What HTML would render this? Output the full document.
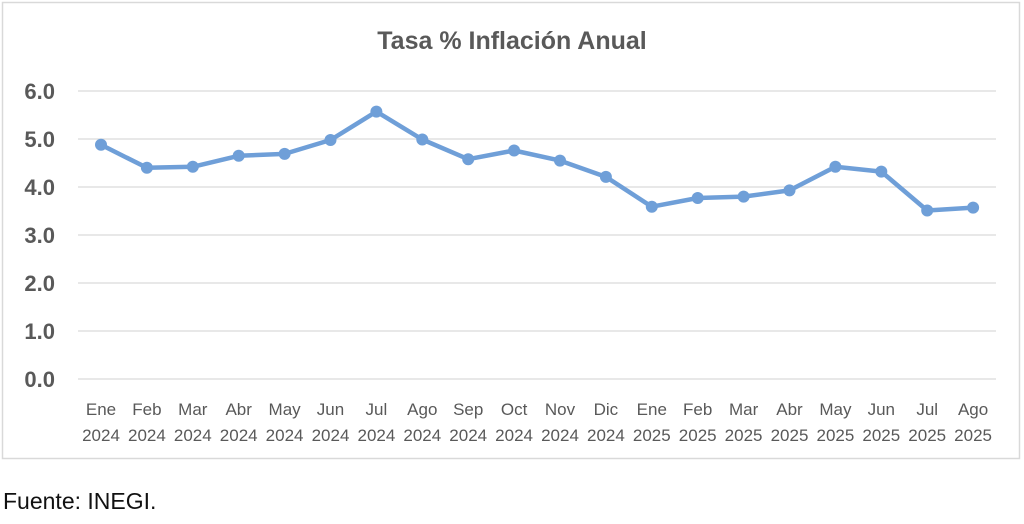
<!DOCTYPE html>
<html><head><meta charset="utf-8"><style>
body{margin:0;background:#fff;width:1024px;height:519px;overflow:hidden}
</style></head><body>
<svg width="1024" height="519" xmlns="http://www.w3.org/2000/svg" font-family="Liberation Sans, sans-serif">
<rect x="2.5" y="2.5" width="1017" height="456" fill="#fff" stroke="#d9d9d9" stroke-width="1.5"/>
<text x="512" y="49" text-anchor="middle" font-size="25" font-weight="bold" fill="#595959">Tasa % Inflación Anual</text>
<g stroke="#d9d9d9" stroke-width="1.3">
<line x1="78" x2="996" y1="91" y2="91"/><line x1="78" x2="996" y1="139" y2="139"/>
<line x1="78" x2="996" y1="187" y2="187"/><line x1="78" x2="996" y1="235" y2="235"/>
<line x1="78" x2="996" y1="283" y2="283"/><line x1="78" x2="996" y1="331" y2="331"/>
<line x1="78" x2="996" y1="379" y2="379"/>
</g>
<g font-size="22" font-weight="bold" fill="#595959" text-anchor="end">
<text x="55" y="99">6.0</text><text x="55" y="147">5.0</text><text x="55" y="195">4.0</text>
<text x="55" y="243">3.0</text><text x="55" y="291">2.0</text><text x="55" y="339">1.0</text>
<text x="55" y="387">0.0</text>
</g>
<polyline fill="none" stroke="#6f9fd8" stroke-width="4.5" stroke-linejoin="round" points="101,144.8 146.9,167.8 192.8,166.8 238.7,155.8 284.6,153.9 330.5,140 376.4,111.6 422.3,139.5 468.2,159.2 514.1,150.5 560,160.6 605.9,176.9 651.8,206.7 697.7,198 743.6,196.6 789.5,190.4 835.4,166.8 881.3,171.6 927.2,210.5 973.1,207.6"/>
<g fill="#6f9fd8">
<circle cx="101" cy="144.8" r="6"/><circle cx="146.9" cy="167.8" r="6"/><circle cx="192.8" cy="166.8" r="6"/><circle cx="238.7" cy="155.8" r="6"/><circle cx="284.6" cy="153.9" r="6"/><circle cx="330.5" cy="140" r="6"/><circle cx="376.4" cy="111.6" r="6"/><circle cx="422.3" cy="139.5" r="6"/><circle cx="468.2" cy="159.2" r="6"/><circle cx="514.1" cy="150.5" r="6"/><circle cx="560" cy="160.6" r="6"/><circle cx="605.9" cy="176.9" r="6"/><circle cx="651.8" cy="206.7" r="6"/><circle cx="697.7" cy="198" r="6"/><circle cx="743.6" cy="196.6" r="6"/><circle cx="789.5" cy="190.4" r="6"/><circle cx="835.4" cy="166.8" r="6"/><circle cx="881.3" cy="171.6" r="6"/><circle cx="927.2" cy="210.5" r="6"/><circle cx="973.1" cy="207.6" r="6"/>
</g>
<g font-size="17" fill="#595959" text-anchor="middle">
<text x="101" y="415">Ene</text><text x="146.9" y="415">Feb</text><text x="192.8" y="415">Mar</text><text x="238.7" y="415">Abr</text><text x="284.6" y="415">May</text><text x="330.5" y="415">Jun</text><text x="376.4" y="415">Jul</text><text x="422.3" y="415">Ago</text><text x="468.2" y="415">Sep</text><text x="514.1" y="415">Oct</text><text x="560" y="415">Nov</text><text x="605.9" y="415">Dic</text><text x="651.8" y="415">Ene</text><text x="697.7" y="415">Feb</text><text x="743.6" y="415">Mar</text><text x="789.5" y="415">Abr</text><text x="835.4" y="415">May</text><text x="881.3" y="415">Jun</text><text x="927.2" y="415">Jul</text><text x="973.1" y="415">Ago</text>
<text x="101" y="441">2024</text><text x="146.9" y="441">2024</text><text x="192.8" y="441">2024</text><text x="238.7" y="441">2024</text><text x="284.6" y="441">2024</text><text x="330.5" y="441">2024</text><text x="376.4" y="441">2024</text><text x="422.3" y="441">2024</text><text x="468.2" y="441">2024</text><text x="514.1" y="441">2024</text><text x="560" y="441">2024</text><text x="605.9" y="441">2024</text><text x="651.8" y="441">2025</text><text x="697.7" y="441">2025</text><text x="743.6" y="441">2025</text><text x="789.5" y="441">2025</text><text x="835.4" y="441">2025</text><text x="881.3" y="441">2025</text><text x="927.2" y="441">2025</text><text x="973.1" y="441">2025</text>
</g>
<text x="3" y="509" font-size="23" fill="#111">Fuente: INEGI.</text>
</svg>
</body></html>
